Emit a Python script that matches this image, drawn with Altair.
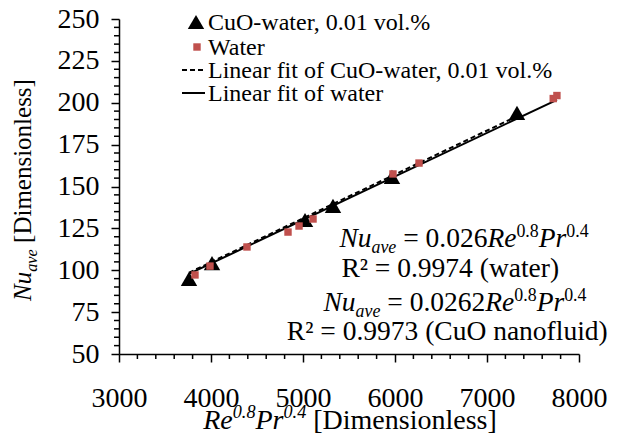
import altair as alt
import pandas as pd

# ---------------- data ----------------
cuo_x = [3761, 4011, 5022, 5326, 5967, 7326]
cuo_y = [94.8, 104.3, 130.0, 138.4, 155.7, 193.9]
water_x = [3826, 3989, 4391, 4837, 4957, 5109, 5978, 6261, 7720, 7760]
water_y = [97.2, 102.5, 113.9, 122.8, 126.4, 130.6, 157.5, 164.0, 202.5, 204.3]
coef_water = 0.026
coef_cuo = 0.0262

legend_labels = ["CuO-water, 0.01 vol.%", "Water",
                 "Linear fit of CuO-water, 0.01 vol.%", "Linear fit of water"]
x_major = [3000, 4000, 5000, 6000, 7000, 8000]
y_major = [50, 75, 100, 125, 150, 175, 200, 225, 250]
x_minor = [v for v in range(3000, 8001, 200) if v % 1000 != 0]
y_minor = [v for v in range(50, 251, 5) if v % 25 != 0]

FONT = "'Liberation Serif', 'Times New Roman', Times, serif"
RED = "#C0504D"
W, H = 460, 335

# ---------------- simple Times metrics for rich text ----------------
REG = {' ': 250, '[': 333, ']': 333, '(': 333, ')': 333, '.': 250, '=': 564,
       '²': 300, '%': 833, ',': 250, '-': 333, 'D': 722, 'C': 667, 'O': 722, 'R': 667,
       'a': 444, 'd': 500, 'e': 444, 'f': 333, 'i': 278, 'l': 278, 'm': 778, 'n': 500,
       'o': 500, 'r': 333, 's': 389, 't': 278, 'u': 500, 'v': 500, 'w': 722, 'c': 444}
ITA = {'N': 667, 'u': 500, 'a': 500, 'v': 444, 'e': 444, 'R': 611, 'P': 611, 'r': 389,
       '.': 250, ' ': 250}


def tw(text, style, size):
    tab = ITA if style == "i" else REG
    return sum(500 if ch.isdigit() else tab.get(ch, 500) for ch in text) * size / 1000.0


def layout(pieces, S, center, base, angle=0):
    sizes = [S * 0.65 if r != "n" else S for (_, _, r) in pieces]
    widths = [tw(t, st, fs) for (t, st, _), fs in zip(pieces, sizes)]
    total = sum(widths)
    pos = center - total / 2 if angle == 0 else center + total / 2
    rows = []
    for (t, st, r), fs, w in zip(pieces, sizes, widths):
        shift = 0.22 * S if r == "sub" else (-0.38 * S if r == "sup" else 0)
        lead = tw(t[:len(t) - len(t.lstrip(" "))], st, fs)   # leading blanks are trimmed
        txt = t.strip(" ")
        if angle == 0:
            rows.append(dict(t=txt, st=st, fs=fs, px=pos + lead, py=base + shift, ang=0))
            pos += w
        else:
            rows.append(dict(t=txt, st=st, fs=fs, px=base + shift, py=pos - lead, ang=270))
            pos -= w
    return rows


def eq(coef):
    return [("Nu", "i", "n"), ("ave", "i", "sub"), (" = " + coef, "r", "n"),
            ("Re", "i", "n"), ("0.8", "r", "sup"), ("Pr", "i", "n"), ("0.4", "r", "sup")]


ES = 27.5
rows = []
rows += layout(eq("0.026"), ES, 345, 228)
rows += layout([("R² = 0.9974 (water)", "r", "n")], ES, 334, 258)
rows += layout(eq("0.0262"), ES, 336, 292)
rows += layout([("R² = 0.9973 (CuO nanofluid)", "r", "n")], ES, 331, 321)
# x axis title
rows += layout([("Re", "i", "n"), ("0.8", "i", "sup"), ("Pr", "i", "n"), ("0.4", "i", "sup"),
                (" [Dimensionless]", "r", "n")], 28, 231, 410)
# y axis title (rotated)
rows += layout([("Nu", "i", "n"), ("ave", "i", "sub"), (" [Dimensionless]", "r", "n")],
               25, 171, -88, angle=270)
ann = pd.DataFrame(rows)


def text_layer(df, italic, angle):
    sub = df[(df.st == ("i" if italic else "r")) & (df.ang == angle)]
    return alt.Chart(sub).mark_text(
        font=FONT, fontStyle="italic" if italic else "normal", align="left",
        baseline="alphabetic", color="black", angle=angle
    ).encode(
        x=alt.X("px:Q", scale=None), y=alt.Y("py:Q", scale=None),
        text="t:N", size=alt.Size("fs:Q", scale=None, legend=None)
    )


xs = alt.Scale(domain=[3000, 8000], nice=False, zero=False)
ys = alt.Scale(domain=[50, 250], nice=False, zero=False)

cuo = pd.DataFrame({"x": cuo_x, "y": cuo_y})
water = pd.DataFrame({"x": water_x, "y": water_y})
fit_w = pd.DataFrame({"x": [min(cuo_x + water_x), max(water_x)]})
fit_w["y"] = fit_w.x * coef_water
fit_c = pd.DataFrame({"x": [min(cuo_x), max(cuo_x)]})
fit_c["y"] = fit_c.x * coef_cuo

xax = alt.Axis(values=x_major, format="d", tickSize=8, labelPadding=22, title=None,
               grid=False)
yax = alt.Axis(values=y_major, format="d", tickSize=8, labelPadding=12, title=None,
               grid=False)

base_x = alt.X("x:Q", scale=xs, axis=xax)
base_y = alt.Y("y:Q", scale=ys, axis=yax)

line_w = alt.Chart(fit_w).mark_line(color="black", strokeWidth=2).encode(x=base_x, y=base_y)
line_c = alt.Chart(fit_c).mark_line(color="black", strokeWidth=2, strokeDash=[5, 3]).encode(
    x=base_x, y=base_y)
pts_c = alt.Chart(cuo).mark_point(shape="triangle-up", filled=True, color="black",
                                  size=270, opacity=1).encode(x=base_x, y=base_y)
pts_w = alt.Chart(water).mark_point(shape="square", filled=True, color=RED,
                                    size=55, opacity=1).encode(x=base_x, y=base_y)

minx = alt.Chart(pd.DataFrame({"x": x_minor})).mark_rule(color="black", strokeWidth=1.5).encode(
    x=alt.X("x:Q", scale=xs), y=alt.value(H), y2=alt.value(H + 5))
miny = alt.Chart(pd.DataFrame({"y": y_minor})).mark_rule(color="black", strokeWidth=1.5).encode(
    y=alt.Y("y:Q", scale=ys), x=alt.value(-5), x2=alt.value(0))

# legend (manual)
leg = pd.DataFrame({"t": legend_labels, "py": [11, 36, 59, 82]})
leg_text = alt.Chart(leg).mark_text(font=FONT, fontSize=24, align="left",
                                    baseline="alphabetic", color="black").encode(
    x=alt.value(89), y=alt.Y("py:Q", scale=None), text="t:N")
leg_tri = alt.Chart(leg.iloc[[0]]).mark_point(shape="triangle-up", filled=True, color="black",
                                              size=270, opacity=1).encode(
    x=alt.value(77), y=alt.value(3))
leg_sq = alt.Chart(leg.iloc[[1]]).mark_point(shape="square", filled=True, color=RED,
                                             size=55, opacity=1).encode(
    x=alt.value(78), y=alt.value(28))
leg_dash = alt.Chart(leg.iloc[[2]]).mark_rule(color="black", strokeWidth=2,
                                              strokeDash=[5, 3]).encode(
    x=alt.value(63), x2=alt.value(86), y=alt.value(51))
leg_solid = alt.Chart(leg.iloc[[3]]).mark_rule(color="black", strokeWidth=2).encode(
    x=alt.value(63), x2=alt.value(86), y=alt.value(74))

layers = [line_w, line_c, pts_c, pts_w, minx, miny,
          leg_text, leg_tri, leg_sq, leg_dash, leg_solid,
          text_layer(ann, True, 0), text_layer(ann, False, 0),
          text_layer(ann, True, 270), text_layer(ann, False, 270)]

chart = alt.layer(*layers).properties(
    width=W, height=H,
    autosize=alt.AutoSizeParams(type="none"),
    padding={"left": 111, "top": 11, "right": 33, "bottom": 81},
    background="white",
).configure_view(stroke=None).configure_axis(
    domainColor="black", domainWidth=1.5, tickColor="black", tickWidth=1.5,
    labelFont=FONT, labelFontSize=28, labelColor="black", labelOverlap=False,
    labelFlush=False, labelBound=False,
)

chart.save("out.html", embed_options={"renderer": "svg", "actions": False})
